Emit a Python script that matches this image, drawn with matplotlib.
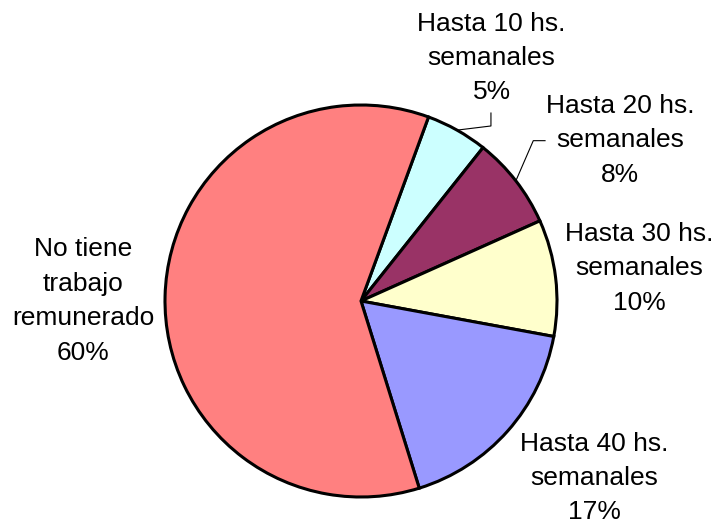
import matplotlib
matplotlib.use('Agg')
import matplotlib.pyplot as plt
import numpy as np

plt.rcParams['font.family'] = ['Liberation Sans', 'DejaVu Sans']

labels = ['Hasta 10 hs.\nsemanales', 'Hasta 20 hs.\nsemanales', 'Hasta 30 hs.\nsemanales',
          'Hasta 40 hs.\nsemanales', 'No tiene\ntrabajo\nremunerado']
values = [5.1, 7.6, 9.6, 17.3, 60.4]
colors = ['#CCFFFF', '#993366', '#FFFFCC', '#9999FF', '#FF8080']

# label centres (pie radius = 1, centre at 0,0)
label_pos = [(0.666, 1.240), (1.321, 0.821), (1.418, 0.168), (1.189, -0.903), (-1.418, 0.0)]

fig = plt.figure(figsize=(7.23, 5.24), dpi=100)
ax = fig.add_axes([0, 0, 1, 1])

start = 69.85
wedges, _ = ax.pie(values, colors=colors, startangle=start, counterclock=False,
                   radius=1, center=(0, 0), frame=True,
                   wedgeprops=dict(edgecolor='black', linewidth=2.2))

for lab, v, (x, y) in zip(labels, values, label_pos):
    ax.text(x, y, '%s\n%d%%' % (lab, round(v)), ha='center', va='center',
            fontsize=19, linespacing=1.55)

# leader lines for the two small slices
tot = sum(values)
cum = np.cumsum([0] + values)
elbows = {0: [(0.663, 0.893), (0.663, 0.959)],
          1: [(0.879, 0.818), (0.939, 0.818)]}
for i, pts in elbows.items():
    mid = np.deg2rad(start - 360 * (cum[i] + values[i] / 2) / tot)
    xs = [np.cos(mid)] + [p[0] for p in pts]
    ys = [np.sin(mid)] + [p[1] for p in pts]
    ax.plot(xs, ys, color='black', linewidth=0.8)

ax.set_xlim(-361 / 196, (723 - 361) / 196)
ax.set_ylim(-(524 - 301) / 196, 301 / 196)
ax.set_aspect('auto')
ax.axis('off')

plt.savefig('out.png', dpi=100)
